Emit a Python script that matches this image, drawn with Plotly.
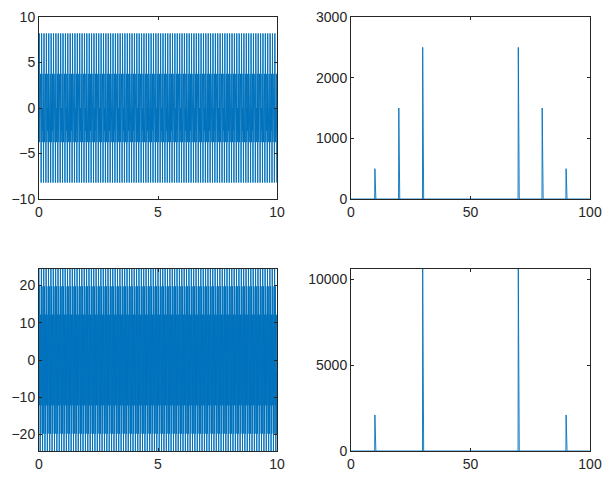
import numpy as np
import plotly.graph_objects as go
from plotly.subplots import make_subplots

# sampling: 10 s at 100 Hz
fs = 100
n_samples = 1000

# top signal components (read from the FFT peaks: 500, 1500, 2500)
top_freqs = [10, 20, 30]
top_amps = [1, 3, 5]
top_phases = [0, 0, 0]

# bottom signal components (FFT peaks ~2100 at 10 Hz, ~10600 at 30 Hz)
bot_freqs = [10, 30]
bot_amps = [4.2, 21.2]
bot_phases = [0.3 * np.pi, 0.5376 * np.pi]

t = np.arange(n_samples) / fs
f = np.arange(n_samples) * fs / n_samples

def make_signal(freqs, amps, phases):
  y = np.zeros(n_samples)
  for fr, a, ph in zip(freqs, amps, phases):
    y += a * np.sin(2 * np.pi * fr * t + ph)
  return y

y_top = make_signal(top_freqs, top_amps, top_phases)
y_bot = make_signal(bot_freqs, bot_amps, bot_phases)
Y_top = np.abs(np.fft.fft(y_top))
Y_bot = np.abs(np.fft.fft(y_bot))

blue = '#0072BD'
axcol = 'rgb(38,38,38)'

fig = make_subplots(rows=2, cols=2)
fig.add_trace(go.Scatter(x=t, y=y_top, mode='lines', line=dict(color=blue, width=1)), 1, 1)
fig.add_trace(go.Scatter(x=f, y=Y_top, mode='lines', line=dict(color=blue, width=0.9)), 1, 2)
fig.add_trace(go.Scatter(x=t, y=y_bot, mode='lines', line=dict(color=blue, width=1)), 2, 1)
fig.add_trace(go.Scatter(x=f, y=Y_bot, mode='lines', line=dict(color=blue, width=0.9)), 2, 2)

# page body has an 8px margin, so the figure is 607x479 placed at (8, 8)
W, H, off = 607, 479, 8
def xdom(a, b): return [(a - off) / W, (b - off) / W]
def ydom(top, bot): return [1 - (bot - off) / H, 1 - (top - off) / H]

xd_left = xdom(39, 277)
xd_right = xdom(351, 590)
yd_top = ydom(17, 199)
yd_bot = ydom(269, 451)

common = dict(showgrid=False, zeroline=False, showline=True, linecolor=axcol, linewidth=1,
              mirror='allticks', ticks='inside', ticklen=3, tickcolor=axcol, automargin=False,
              tickfont=dict(family='Liberation Sans, Arial', size=14, color=axcol))

fig.update_xaxes(common)
fig.update_yaxes(common)

fig.update_xaxes(domain=xd_left, range=[0, 10], tickvals=[0, 5, 10], row=1, col=1)
fig.update_yaxes(domain=yd_top, range=[-10, 10], tickvals=[-10, -5, 0, 5, 10], row=1, col=1)
fig.update_xaxes(domain=xd_right, range=[0, 100], tickvals=[0, 50, 100], row=1, col=2)
fig.update_yaxes(domain=yd_top, range=[0, 3000], tickvals=[0, 1000, 2000, 3000], row=1, col=2)
fig.update_xaxes(domain=xd_left, range=[0, 10], tickvals=[0, 5, 10], row=2, col=1)
fig.update_yaxes(domain=yd_bot, range=[y_bot.min(), y_bot.max()], tickvals=[-20, -10, 0, 10, 20], row=2, col=1)
fig.update_xaxes(domain=xd_right, range=[0, 100], tickvals=[0, 50, 100], row=2, col=2)
fig.update_yaxes(domain=yd_bot, range=[0, Y_bot.max()], tickvals=[0, 5000, 10000],
                 tickformat='d', row=2, col=2)

fig.update_layout(width=W, height=H, margin=dict(l=0, r=0, t=0, b=0),
                  showlegend=False, plot_bgcolor='white', paper_bgcolor='white')

fig.write_html("out.html")
